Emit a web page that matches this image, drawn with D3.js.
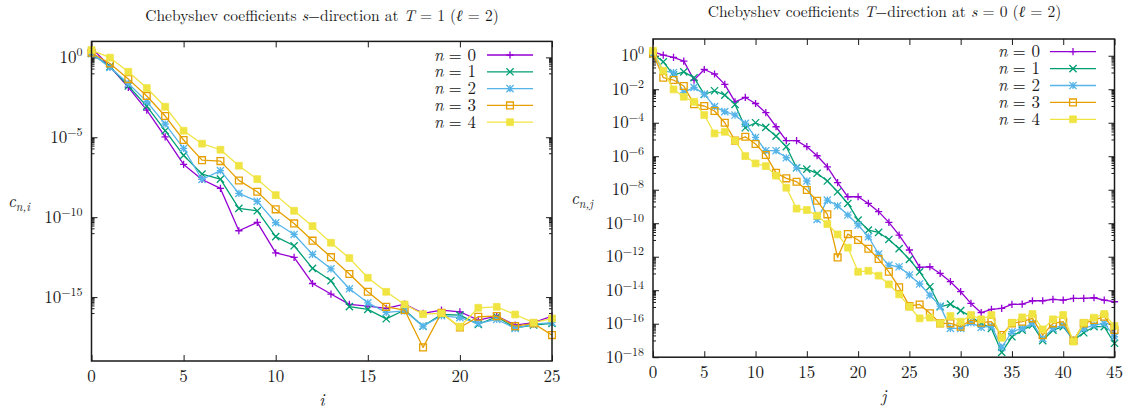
<!DOCTYPE html>
<html>
<head>
<meta charset="utf-8">
<script src="https://cdn.jsdelivr.net/npm/d3@7"></script>
<style>
  body { margin: 0; background: #fff; }
</style>
</head>
<body>
<svg id="chart" width="1123" height="411"></svg>
<script>
// ---- data: log10 of |c| for each Chebyshev order n ----
const orders = ["0", "1", "2", "3", "4"];

// s-direction, index i
const iIndex = [0,1,2,3,4,5,6,7,8,9,10,11,12,13,14,15,16,17,18,19,20,21,22,23,24,25];
const sDirN0 = [0.6,-0.58,-1.88,-3.3,-4.97,-6.7,-7.64,-8.2,-10.85,-10.33,-12.23,-12.52,-14.15,-14.81,-15.46,-15.56,-15.71,-15.44,-16.02,-15.81,-15.92,-16.44,-16.19,-16.75,-16.6,-16.19];
const sDirN1 = [0.25,-0.58,-1.79,-3.05,-4.59,-6.13,-7.3,-7.62,-9.45,-9.6,-11.22,-11.79,-13.2,-13.98,-15.6,-15.77,-16.36,-15.81,-16.82,-16.09,-16.13,-16.71,-16.23,-16.92,-16.75,-16.65];
const sDirN2 = [0.25,-0.63,-1.63,-2.77,-4.17,-5.7,-7.64,-7.09,-8.51,-9.01,-10.35,-11.08,-12.33,-13.23,-14.48,-15.36,-15.96,-15.86,-16.82,-16.17,-16.29,-16.65,-16.4,-16.96,-16.69,-16.6];
const sDirN3 = [0.29,-0.38,-1.36,-2.42,-3.67,-5.17,-6.43,-6.49,-7.7,-8.41,-9.51,-10.39,-11.47,-12.5,-13.56,-14.67,-15.61,-15.81,-18.15,-15.98,-16.9,-16.23,-16.19,-16.82,-16.65,-17.38];
const sDirN4 = [0.46,-0.02,-0.9,-1.92,-3.09,-4.59,-5.4,-5.78,-6.78,-7.62,-8.62,-9.6,-10.56,-11.6,-12.56,-13.79,-14.67,-15.46,-16.07,-16.02,-16.86,-15.67,-15.61,-16.09,-16.6,-16.34];

// T-direction, index j
const jIndex = [0,1,2,3,4,5,6,7,8,9,10,11,12,13,14,15,16,17,18,19,20,21,22,23,24,25,26,27,28,29,30,31,32,33,34,35,36,37,38,39,40,41,42,43,44,45];
const tDirN0 = [0.24,0.04,-0.1,-0.32,-1.45,-0.82,-1.09,-1.71,-2.75,-2.49,-2.85,-3.4,-4.24,-5.07,-5.07,-5.43,-5.97,-6.63,-7.58,-8.42,-8.42,-8.82,-9.31,-9.95,-10.71,-11.6,-12.64,-12.6,-13.0,-13.49,-14.09,-14.79,-15.34,-15.14,-15.08,-14.85,-14.83,-14.63,-14.63,-14.55,-14.59,-14.49,-14.49,-14.45,-14.59,-14.69];
const tDirN1 = [0.1,-0.36,-1.15,-0.96,-1.31,-2.31,-2.09,-2.35,-2.91,-4.3,-4.0,-4.28,-4.8,-5.43,-6.69,-6.77,-7.02,-7.48,-8.12,-8.82,-9.81,-10.41,-10.55,-10.97,-11.52,-12.16,-12.9,-13.79,-14.99,-14.83,-15.22,-15.58,-15.98,-16.28,-17.71,-16.78,-16.38,-16.08,-17.01,-16.38,-16.18,-16.98,-16.54,-16.18,-16.18,-17.17];
const tDirN2 = [0.14,-0.9,-1.0,-2.19,-1.89,-2.29,-3.04,-3.34,-3.54,-4.04,-4.88,-5.67,-5.67,-6.09,-6.69,-7.48,-9.77,-8.62,-8.96,-9.51,-10.11,-10.81,-11.84,-12.5,-12.6,-13.09,-13.63,-14.29,-14.95,-16.28,-16.28,-15.94,-16.22,-16.14,-17.41,-16.48,-16.28,-15.98,-16.88,-16.28,-16.08,-16.98,-16.28,-16.08,-15.98,-16.78];
const tDirN3 = [0.14,-1.31,-1.45,-1.81,-2.89,-3.0,-3.3,-4.0,-5.07,-4.84,-5.27,-5.93,-6.99,-7.32,-7.52,-8.02,-8.66,-9.47,-12.04,-10.65,-11.0,-11.52,-12.14,-12.9,-13.83,-14.95,-14.85,-15.38,-15.98,-15.98,-16.18,-15.78,-15.94,-15.88,-16.68,-15.98,-15.88,-15.68,-16.68,-15.98,-15.88,-17.01,-15.98,-15.78,-15.58,-16.38];
const tDirN4 = [0.3,-0.9,-2.01,-2.45,-2.75,-3.54,-4.64,-4.54,-5.07,-5.99,-6.43,-6.59,-7.16,-7.88,-9.13,-9.21,-9.55,-10.05,-10.67,-11.46,-12.9,-12.84,-13.13,-13.65,-14.25,-14.99,-15.68,-15.64,-15.98,-15.54,-15.88,-15.48,-15.74,-15.48,-16.84,-15.94,-15.62,-15.42,-16.34,-15.74,-15.48,-17.07,-15.94,-15.64,-15.42,-16.14];

// axis ticks
const sXTicks = [0, 5, 10, 15, 20, 25];
const sYTickExps = [0, -5, -10, -15];
const tXTicks = [0, 5, 10, 15, 20, 25, 30, 35, 40, 45];
const tYTickExps = [0, -2, -4, -6, -8, -10, -12, -14, -16, -18];

// ---- styling ----
const fontStack = "'Latin Modern Roman', 'Liberation Serif', serif";
const colors = ["#9400d3", "#009e73", "#56b4e9", "#e69f00", "#f0e442"];
const markerKinds = ["plus", "cross", "star", "openSquare", "filledSquare"];

const svg = d3.select("#chart");

function txt(g) {
  return g.append("text").attr("font-family", fontStack).attr("fill", "#1a1a1a");
}

function markerPath(kind, s) {
  const plus = `M${-s},0H${s}M0,${-s}V${s}`;
  const cross = `M${-s},${-s}L${s},${s}M${-s},${s}L${s},${-s}`;
  if (kind === "plus") return plus;
  if (kind === "cross") return cross;
  if (kind === "star") return plus + cross;
  return `M${-s},${-s}H${s}V${s}H${-s}Z`;
}

function drawMarker(g, kind, color, x, y) {
  const sq = kind === "openSquare" || kind === "filledSquare";
  const s = sq ? 3.4 : 3.6;
  g.append("path")
    .attr("transform", `translate(${x},${y})`)
    .attr("d", markerPath(kind, s))
    .attr("fill", kind === "filledSquare" ? color : "none")
    .attr("stroke", color)
    .attr("stroke-width", kind === "filledSquare" ? 0.8 : 1.3);
}

function superTick(g, x, y, exp) {
  const t = txt(g).attr("x", x).attr("y", y)
    .attr("text-anchor", "end").attr("font-size", 17);
  t.append("tspan").text("10");
  t.append("tspan").attr("dy", -7).attr("font-size", 12)
    .text(exp === 0 ? "0" : "\u2212" + Math.abs(exp));
}

function drawPanel(cfg) {
  const g = svg.append("g");
  const x = d3.scaleLinear().domain(cfg.xDomain).range([cfg.left, cfg.right]);
  const y = d3.scaleLog().domain(cfg.yDomain).range([cfg.bottom, cfg.top]);

  // minor log ticks: m * 10^(k-1) under each major tick
  const minor = [];
  cfg.yTickExps.forEach(k => {
    for (let m = 1; m <= 9; m++) {
      const v = m * Math.pow(10, k - 1);
      if (v >= cfg.yDomain[0] && v <= cfg.yDomain[1]) minor.push(v);
    }
  });
  const majors = cfg.yTickExps.map(k => Math.pow(10, k));

  const axisStyle = sel => {
    sel.select(".domain").remove();
    sel.selectAll("line").attr("stroke", "#1a1a1a").attr("stroke-width", 1);
    sel.selectAll("text").remove();
  };

  g.append("g").attr("transform", `translate(0,${cfg.bottom})`)
    .call(d3.axisBottom(x).tickValues(cfg.xTicks).tickSize(-6)).call(axisStyle);
  g.append("g").attr("transform", `translate(0,${cfg.top})`)
    .call(d3.axisTop(x).tickValues(cfg.xTicks).tickSize(-6)).call(axisStyle);
  g.append("g").attr("transform", `translate(${cfg.left},0)`)
    .call(d3.axisLeft(y).tickValues(majors).tickSize(-6)).call(axisStyle);
  g.append("g").attr("transform", `translate(${cfg.right},0)`)
    .call(d3.axisRight(y).tickValues(majors).tickSize(-6)).call(axisStyle);
  g.append("g").attr("transform", `translate(${cfg.left},0)`)
    .call(d3.axisLeft(y).tickValues(minor).tickSize(-3)).call(axisStyle);
  g.append("g").attr("transform", `translate(${cfg.right},0)`)
    .call(d3.axisRight(y).tickValues(minor).tickSize(-3)).call(axisStyle);

  // tick labels
  cfg.xTicks.forEach(v => {
    txt(g).attr("x", x(v)).attr("y", cfg.bottom + 21)
      .attr("text-anchor", "middle").attr("font-size", 17).text(v);
  });
  cfg.yTickExps.forEach(k => superTick(g, cfg.left - 9, y(Math.pow(10, k)) + 5.5, k));

  // series
  const line = d3.line().x(d => x(d[0])).y(d => y(Math.pow(10, d[1])));
  cfg.series.forEach((vals, n) => {
    const pts = cfg.xIndex.map((xi, idx) => [xi, vals[idx]]);
    g.append("path").datum(pts)
      .attr("d", line)
      .attr("fill", "none")
      .attr("stroke", colors[n])
      .attr("stroke-width", 1.3)
      .attr("stroke-linejoin", "round");
    const mg = g.append("g");
    pts.forEach(p => drawMarker(mg, markerKinds[n], colors[n], x(p[0]), y(Math.pow(10, p[1]))));
  });

  // frame
  g.append("rect")
    .attr("x", cfg.left).attr("y", cfg.top)
    .attr("width", cfg.right - cfg.left).attr("height", cfg.bottom - cfg.top)
    .attr("fill", "none").attr("stroke", "#1a1a1a").attr("stroke-width", 1.5);

  // legend: italic "n", then "= k", placed as separate runs
  orders.forEach((lab, n) => {
    const ly = cfg.legendTop + n * cfg.legendStep;
    const eq = txt(g).attr("x", cfg.legendTextX).attr("y", ly + 5.5)
      .attr("text-anchor", "end").attr("font-size", 17).text("= " + lab);
    const w = eq.node().getComputedTextLength();
    txt(g).attr("x", cfg.legendTextX - w - 5).attr("y", ly + 5.5)
      .attr("text-anchor", "end").attr("font-size", 17).attr("font-style", "italic").text("n");
    g.append("line")
      .attr("x1", cfg.legendLine[0]).attr("x2", cfg.legendLine[1])
      .attr("y1", ly).attr("y2", ly)
      .attr("stroke", colors[n]).attr("stroke-width", 1.3);
    drawMarker(g, markerKinds[n], colors[n], (cfg.legendLine[0] + cfg.legendLine[1]) / 2, ly);
  });

  // title
  const tt = txt(g).attr("x", cfg.titleX).attr("y", cfg.titleY)
    .attr("text-anchor", "middle").attr("font-size", 15.5);
  cfg.title.forEach(part => {
    const sp = tt.append("tspan").text(part[0]);
    if (part[1]) sp.attr("font-style", "italic");
  });

  // axis labels
  txt(g).attr("x", (cfg.left + cfg.right) / 2).attr("y", cfg.xLabelY)
    .attr("text-anchor", "middle").attr("font-size", 17).attr("font-style", "italic")
    .text(cfg.xLabel);
  const yl = txt(g).attr("x", cfg.yLabelX).attr("y", cfg.yLabelY)
    .attr("text-anchor", "middle").attr("font-size", 17).attr("font-style", "italic");
  yl.append("tspan").text("c");
  yl.append("tspan").attr("dy", 4).attr("font-size", 12).text("n," + cfg.xLabel);
}

drawPanel({
  xDomain: [0, 25], yDomain: [1e-19, 1e1],
  left: 91.5, right: 552, top: 41.4, bottom: 361,
  xTicks: sXTicks, yTickExps: sYTickExps,
  xIndex: iIndex, series: [sDirN0, sDirN1, sDirN2, sDirN3, sDirN4],
  legendTop: 55, legendStep: 16.8, legendTextX: 476, legendLine: [487, 533],
  title: [["Chebyshev coefficients ", false], ["s", true], ["\u2212direction at ", false],
          ["T", true], [" = 1 (", false], ["\u2113", true], [" = 2)", false]],
  titleX: 322, titleY: 21,
  xLabel: "i", xLabelY: 406, yLabelX: 19, yLabelY: 207
});

drawPanel({
  xDomain: [0, 45], yDomain: [1e-18, 1e1],
  left: 653, right: 1114.5, top: 39, bottom: 357.2,
  xTicks: tXTicks, yTickExps: tYTickExps,
  xIndex: jIndex, series: [tDirN0, tDirN1, tDirN2, tDirN3, tDirN4],
  legendTop: 51.7, legendStep: 16.9, legendTextX: 1040, legendLine: [1050, 1096],
  title: [["Chebyshev coefficients ", false], ["T", true], ["\u2212direction at ", false],
          ["s", true], [" = 0 (", false], ["\u2113", true], [" = 2)", false]],
  titleX: 884.5, titleY: 17,
  xLabel: "j", xLabelY: 402, yLabelX: 582, yLabelY: 204
});
</script>
</body>
</html>
